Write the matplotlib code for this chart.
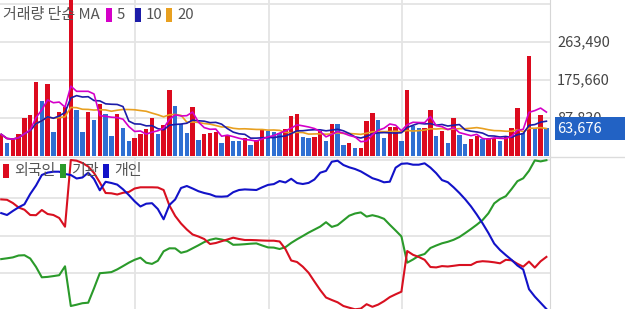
import matplotlib.pyplot as plt
import pandas as pd
from matplotlib.patches import Rectangle
from matplotlib.lines import Line2D

plt.rcParams['font.family'] = ['Noto Sans CJK KR', 'DejaVu Sans']

# daily volume (shares); 'R' = up day, 'B' = down day
volume = [50100, 30700, 36300, 51500, 88500, 94800, 171700, 127100, 165700, 56200,
          102400, 113200, 370000, 105600, 56200, 102400, 82500, 119500, 97800, 46200,
          97800, 64000, 34700, 40900, 51500, 61700, 87100, 50100, 71600, 151800,
          115600, 73300, 53800, 113200, 36300, 51500, 53800, 56200, 30700, 48500,
          34700, 34700, 40900, 25400, 36300, 60100, 57800, 56200, 53800, 61700,
          92400, 96400, 43900, 40900, 43900, 57800, 34700, 73300, 73300, 25400,
          30700, 17800, 17800, 80900, 98700, 82500, 40900, 67000, 67000, 34700,
          151800, 69300, 64000, 65400, 105600, 46200, 57800, 30700, 87100, 48500,
          28400, 40000, 46200, 38600, 42300, 42300, 34700, 43900, 65400, 110200,
          53800, 231100, 64000, 94800, 63676]
direction = list("RBRRRRRBRBRRRBBRBRBBRBBRRRRBRRBBBRBRRRBRBBRBRRBBBRRRBBRRBRBBRBRRRBBRRBRBBRRBRBRBBRRBRRBRRRBRBRB")

# cumulative net buying by investor type (relative units)
foreign = [109.6, 109.2, 106, 101.5, 99.3, 94, 93.8, 99, 95, 94,
           91, 82.3, 149, 148.3, 146, 142.5, 136, 126.5, 116, 115.7,
           114.5, 116.2, 117, 120.5, 121.7, 121.7, 121.7, 121.5, 119, 103.5,
           93, 85.5, 79.5, 74.5, 72.5, 70, 65, 66, 67.8, 69.5,
           71.3, 70, 69, 69, 68.8, 68.5, 68.3, 68.3, 67.5, 60,
           48.5, 47, 42.3, 36.2, 27.5, 19, 11.5, 9, 6.7, 3,
           1.3, -0.3, 0.4, 4.8, 2.2, 4.4, 7.8, 11.9, 14.7, 17.3,
           58, 54.2, 52, 49.2, 42, 41.6, 42.9, 42.5, 43.2, 44,
           44, 44, 47, 47.8, 47.4, 46.7, 45.7, 49.2, 48.7, 45.2,
           42.3, 47.4, 41.4, 47.7, 52.1]
institution = [49.9, 50.7, 51.6, 53.5, 53.8, 50.5, 42.1, 31.7, 32.1, 32.9,
               33.8, 42.7, 3, 4.3, 5.8, 6.3, 20.7, 35.8, 36.3, 36.9,
               39.6, 42.9, 46.3, 49.2, 51.3, 46.3, 45.1, 48.2, 57.7, 60.7,
               60.6, 56.2, 57.7, 60.7, 63.7, 66.9, 69.2, 70.5, 69.5, 68,
               64.2, 64.4, 64.8, 65.3, 65.6, 63.5, 61.6, 61.4, 60, 61.8,
               66.1, 69.7, 73, 76.4, 79.4, 82.4, 86.8, 82.1, 83.9, 88.6,
               93.3, 95.5, 96.6, 92.4, 93.8, 92.4, 90.2, 84.2, 78.5, 72.6,
               46.3, 49.5, 53.2, 55, 61, 63.5, 65.7, 67.2, 69.2, 72,
               75.9, 80, 84.3, 89, 95.7, 105.6, 110, 112.8, 120, 127.8,
               130.7, 138.2, 148.6, 147.6, 148.8]
individual = [95.9, 94, 98, 101.7, 104.7, 115, 123.5, 134, 136.4, 137.3,
              137.3, 135, 134, 130.5, 131.5, 136.3, 130, 118.7, 127.2, 126,
              124.4, 119.7, 114, 107.7, 102.5, 105.3, 105.8, 100, 89.7, 104,
              109.6, 121, 123, 120.5, 117.8, 116, 114.7, 112.5, 112.3, 112.7,
              116.8, 119, 119.6, 119.3, 119, 121.7, 124.1, 124.9, 128, 126.5,
              130.2, 126, 125, 126.1, 129.5, 136.3, 138.1, 147.3, 148.3, 144,
              141.7, 140, 137.6, 134.2, 130.8, 129, 126.7, 127.3, 141.3, 145.2,
              145.6, 144.3, 144.3, 145.7, 141.4, 135.8, 128.9, 126.8, 121.7, 116,
              109.7, 102.6, 94.4, 85.6, 76, 65.4, 59, 53.9, 49.1, 43.5,
              39.5, 19.8, 12.4, 6.2, 0]

vol_ticks = [87830, 175660, 263490, 351320]
vol_labels = ['87,830', '175,660', '263,490']
month_ticks = [23.07, 46.2, 69.1]

W, H = 625, 309
fig = plt.figure(figsize=(W / 100, H / 100), dpi=100)
grid_c = '#e4e4e4'
n = len(volume)
x = list(range(n))

# volume panel
ax1 = fig.add_axes([0, 1 - 156 / H, 550 / W, 156 / H])
bar_colors = ['#dc0a1e' if d == 'R' else '#2f6fd2' for d in direction]
ax1.bar(x, volume, width=0.76, color=bar_colors, zorder=2)
s = pd.Series(volume)
ax1.plot(x, s.rolling(20, min_periods=1).mean(), color='#e8a020', lw=1.2, zorder=3)
ax1.plot(x, s.rolling(10, min_periods=1).mean(), color='#1c1ca8', lw=1.2, zorder=3)
ax1.plot(x, s.rolling(5, min_periods=1).mean(), color='#d400c8', lw=1.2, zorder=3)
ax1.set_xlim(-0.21, 94.62)
ax1.set_ylim(0, 360500)
ax1.set_yticks(vol_ticks)
ax1.set_xticks(month_ticks)
ax1.grid(True, color=grid_c, lw=1.3, zorder=0)
ax1.tick_params(left=False, bottom=False, labelleft=False, labelbottom=False)
for sp in ['top', 'left', 'bottom']:
    ax1.spines[sp].set_visible(False)
ax1.spines['right'].set_color('#d6d6d6')
for v, lab in zip(vol_ticks, vol_labels):
    ax1.text(557 / 550, v, lab, transform=ax1.get_yaxis_transform(), va='center',
             ha='left', fontsize=10.5, color='#444444', clip_on=False)

# investor panel
ax2 = fig.add_axes([0, 0, 550 / W, 152 / H])
ax2.plot(x, institution, color='#2a9a2a', lw=1.5)
ax2.plot(x, foreign, color='#d81020', lw=1.5)
ax2.plot(x, individual, color='#1212c8', lw=1.5)
ax2.set_xlim(-0.21, 94.62)
ax2.set_ylim(0, 152)
ax2.set_yticks([36, 73, 111, 149])
ax2.set_xticks(month_ticks)
ax2.grid(True, color=grid_c, lw=1.3, zorder=0)
ax2.tick_params(left=False, bottom=False, labelleft=False, labelbottom=False)
for sp in ['top', 'left', 'bottom']:
    ax2.spines[sp].set_visible(False)
ax2.spines['right'].set_color('#d6d6d6')

fig.add_artist(Line2D([0, 1], [1 - 156.5 / H] * 2, color='#dcdcdc', lw=1))

# last volume box
fig.canvas.draw()
y_disp = ax1.transData.transform((0, volume[-1]))[1]
y_fig = y_disp / fig.bbox.height
fig.patches.append(Rectangle((555 / W, y_fig - 11.5 / H), 70 / W, 23 / H,
                             transform=fig.transFigure, facecolor='#2262c4',
                             edgecolor='none', zorder=1))
fig.text(557 / W, y_fig, f'{volume[-1]:,}', color='white', fontsize=10.5,
         va='center', ha='left', zorder=3)


def legend_item(x0, y0, color, label):
    fig.patches.append(Rectangle((x0 / W, 1 - (y0 + 7) / H), 6 / W, 14 / H,
                                 transform=fig.transFigure, facecolor=color,
                                 edgecolor='none', zorder=2))
    fig.text((x0 + 11) / W, 1 - y0 / H, label, color='#555555', fontsize=10.8,
             va='center', ha='left', zorder=3)


fig.text(3 / W, 1 - 15 / H, '거래량 단순 MA', color='#555555', fontsize=10.8,
         va='center', ha='left', zorder=3)
legend_item(106, 15, '#d400c8', '5')
legend_item(135, 15, '#1c1ca8', '10')
legend_item(166, 15, '#e8a020', '20')

legend_item(3, 171, '#dc0a1e', '외국인')
legend_item(60, 171, '#2a9a2a', '기관')
legend_item(103, 171, '#1212c8', '개인')

fig.savefig('out.png', dpi=100)
